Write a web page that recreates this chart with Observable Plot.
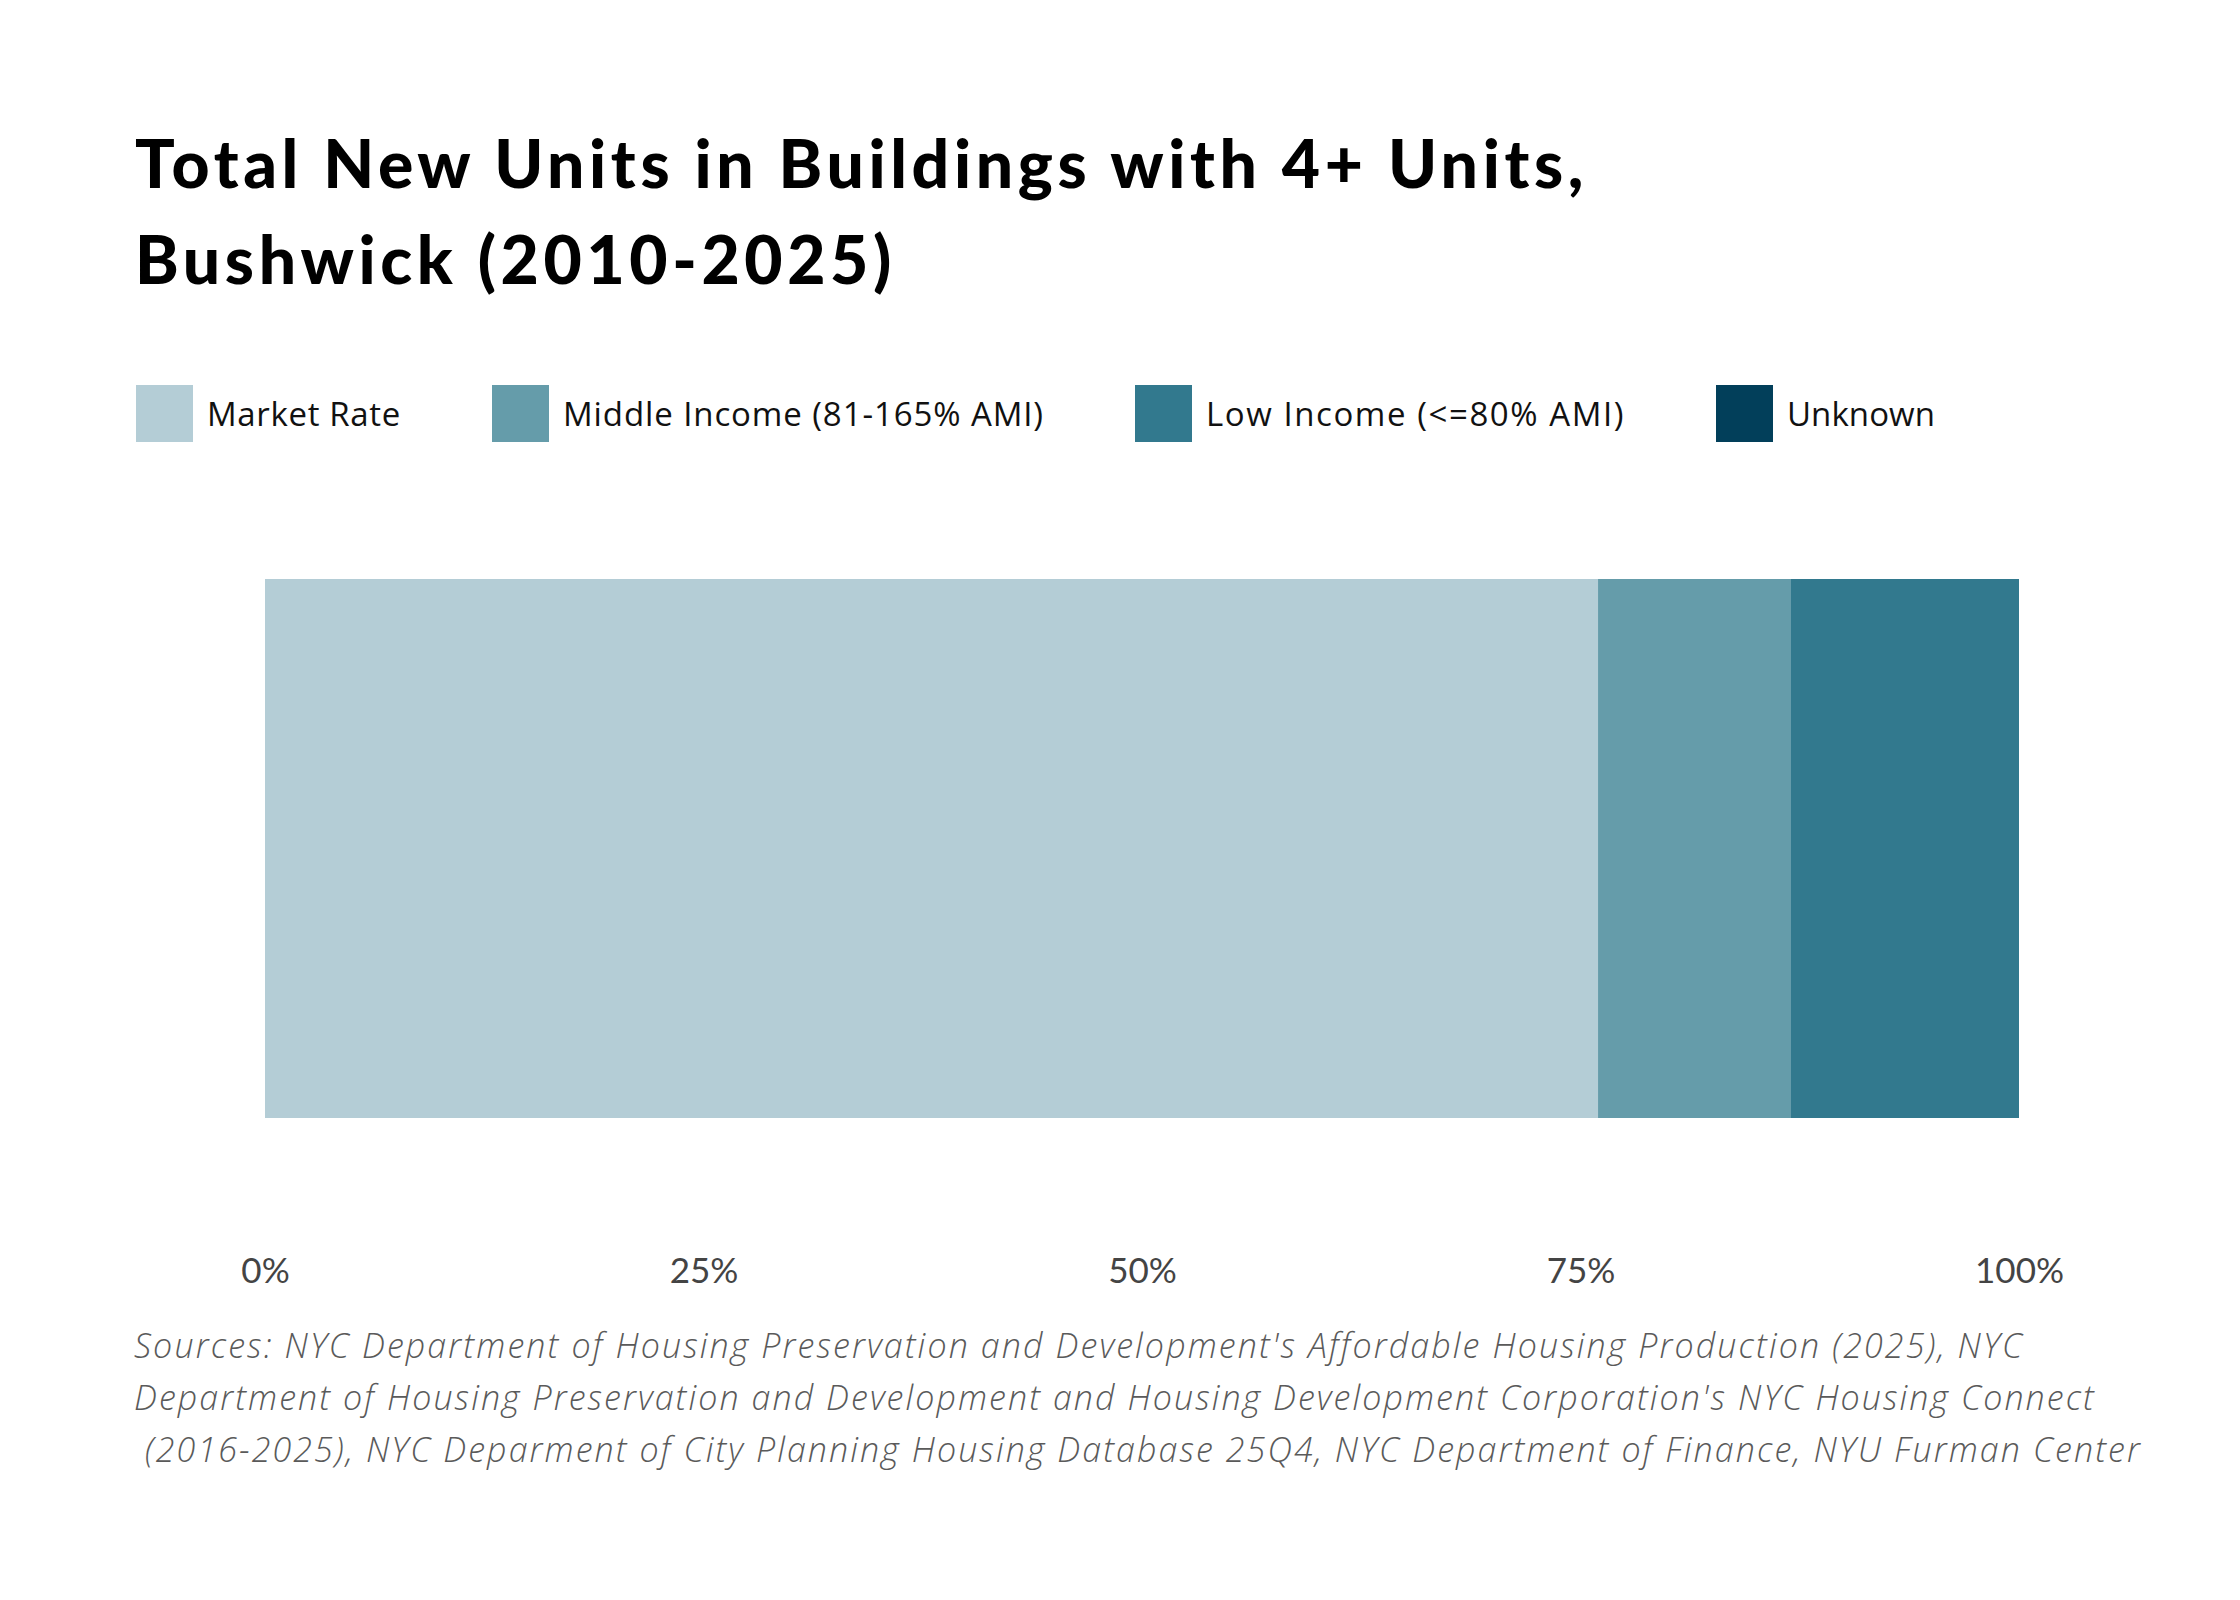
<!DOCTYPE html>
<html>
<head>
<meta charset="utf-8">
<script src="https://cdn.jsdelivr.net/npm/d3@7"></script>
<script src="https://cdn.jsdelivr.net/npm/@observablehq/plot@0.6"></script>
<style>
  html, body { margin: 0; padding: 0; background: #fff; }
  body { width: 2240px; height: 1600px; position: relative; overflow: hidden; }
  .fit { display: inline-block; white-space: pre; }
  #title { position: absolute; left: 135px; top: 115px; font-family: Lato, sans-serif; font-weight: 900;
           font-size: 66px; line-height: 96px; color: #000; }
  #legend { position: absolute; left: 136px; top: 385px; height: 57px; display: flex; align-items: center;
            font-family: "Open Sans", sans-serif; font-size: 33px; color: #111; }
  .item { display: flex; align-items: center; margin-right: 91px; }
  .sw { width: 57px; height: 57px; margin-right: 14px; }
  #chart { position: absolute; left: 0; top: 442px; }
  #caption { position: absolute; left: 134px; top: 1319px; font-family: "Open Sans", sans-serif; font-style: italic;
             font-weight: 300; font-size: 34px; line-height: 52px; color: #5a5a5a; }
</style>
</head>
<body>
<div id="title"></div>
<div id="legend"></div>
<div id="chart"></div>
<div id="caption"></div>
<script>
const titleLines = ["Total New Units in Buildings with 4+ Units,", "Bushwick (2010-2025)"];
const categories = ["Market Rate", "Middle Income (81-165% AMI)", "Low Income (<=80% AMI)", "Unknown"];
const shares = [0.760, 0.110, 0.130, 0.000];
const colors = ["#b4cdd6", "#659caa", "#32798e", "#023f5a"];
const tickValues = [0, 0.25, 0.5, 0.75, 1];
const tickLabels = ["0%", "25%", "50%", "75%", "100%"];
const captionLines = [
  "Sources: NYC Department of Housing Preservation and Development's Affordable Housing Production (2025), NYC",
  "Department of Housing Preservation and Development and Housing Development Corporation's NYC Housing Connect",
  " (2016-2025), NYC Deparment of City Planning Housing Database 25Q4, NYC Department of Finance, NYU Furman Center"
];
// target text widths (for letter-spacing fit)
const titleWidth = 1453;
const legendWidths = [194, 481, 419, 148];
const captionWidths = [1890, 1962, 2008];

function fit(el, target) {
  el.style.letterSpacing = "0px";
  const w = el.getBoundingClientRect().width;
  const n = el.textContent.length;
  el.style.letterSpacing = ((target - w) / n) + "px";
  return (target - w) / n;
}

// title
const titleEl = document.getElementById("title");
const tSpans = titleLines.map(t => {
  const d = document.createElement("div");
  const s = document.createElement("span");
  s.className = "fit"; s.textContent = t;
  d.appendChild(s); titleEl.appendChild(d);
  return s;
});

// legend
const legendEl = document.getElementById("legend");
const lSpans = categories.map((c, i) => {
  const it = document.createElement("div"); it.className = "item";
  const sw = document.createElement("div"); sw.className = "sw"; sw.style.background = colors[i];
  const s = document.createElement("span"); s.className = "fit"; s.textContent = c;
  it.appendChild(sw); it.appendChild(s); legendEl.appendChild(it);
  return s;
});

// caption
const capEl = document.getElementById("caption");
const cSpans = captionLines.map(t => {
  const d = document.createElement("div");
  const s = document.createElement("span"); s.className = "fit"; s.textContent = t;
  d.appendChild(s); capEl.appendChild(d);
  return s;
});

const ls = fit(tSpans[0], titleWidth);
tSpans[1].style.letterSpacing = ls + "px";
lSpans.forEach((s, i) => fit(s, legendWidths[i]));
cSpans.forEach((s, i) => fit(s, captionWidths[i]));

// chart
const data = categories.map((c, i) => ({category: c, share: shares[i]}));
const chart = Plot.plot({
  width: 2240,
  height: 880,
  marginLeft: 265,
  marginRight: 221,
  marginTop: 137,
  marginBottom: 204,
  style: {fontFamily: "Lato, sans-serif", background: "#fff"},
  x: {domain: [0, 1]},
  color: {domain: categories, range: colors},
  marks: [
    Plot.barX(data, Plot.stackX({x: "share", fill: "category"})),
    Plot.axisX({
      ticks: tickValues,
      tickFormat: (d) => tickLabels[tickValues.indexOf(d)],
      tickSize: 0,
      tickPadding: 140,
      fontSize: 35,
      fill: "#444",
      label: null
    })
  ]
});
document.getElementById("chart").appendChild(chart);
</script>
</body>
</html>
